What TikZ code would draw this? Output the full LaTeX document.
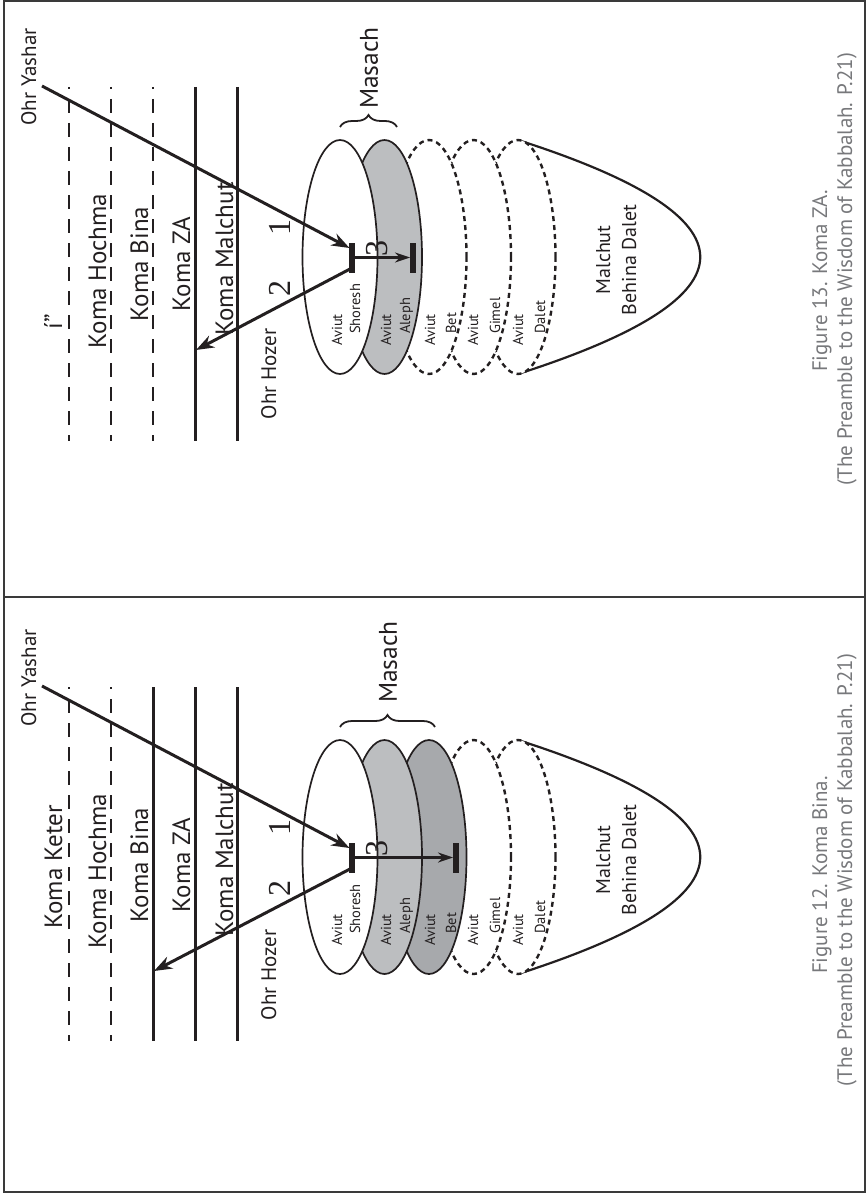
\documentclass[tikz,border=0pt]{standalone}
\usepackage{fontspec}
\setmainfont{PT Sans}
\newfontfamily\digitfont{Liberation Serif}
\usetikzlibrary{arrows.meta,decorations.pathreplacing,shapes.geometric}
\definecolor{ink}{HTML}{231F20}
\definecolor{capgray}{HTML}{77787B}
\definecolor{grayA}{HTML}{BCBEC0}
\definecolor{grayB}{HTML}{A7A9AC}
\definecolor{framegray}{HTML}{3A3A3A}
\tikzset{
  txt/.style={rotate=90, inner sep=0pt, text=ink},
  koma/.style={txt, anchor=base, font=\fontsize{25}{30}\selectfont},
  ohr/.style={txt, anchor=base, font=\fontsize{21}{25}\selectfont},
  lblsmall/.style={txt, anchor=base west, font=\fontsize{14.5}{17}\selectfont},
  digit/.style={txt, anchor=base, font=\digitfont\fontsize{32}{36}\selectfont},
  mlabel/.style={txt, anchor=base, font=\fontsize{20}{24}\selectfont},
  masach/.style={txt, anchor=center, font=\fontsize{25.5}{30}\selectfont},
  capt/.style={rotate=90, inner sep=0pt, anchor=base, text=capgray, font=\fontsize{21}{25}\selectfont},
  solidline/.style={draw=ink, line width=3pt},
  dashline/.style={draw=ink, line width=2pt, dash pattern=on 14pt off 10pt, dash phase=12pt},
  ray/.style={draw=ink, line width=3pt, -{Stealth[length=18pt,width=13pt]}},
  rayb/.style={draw=ink, line width=2.5pt, -{Stealth[length=15pt,width=10pt]}},
  tbar/.style={fill=ink, inner sep=0pt, minimum width=5.5pt, minimum height=30pt},
  disc/.style={ellipse, draw=ink, line width=1.7pt, fill=white, inner sep=0pt, minimum width=75pt, minimum height=234pt},
  ghost/.style={disc, line width=2.4pt, dash pattern=on 5pt off 4pt},
  brc/.style={draw=ink, line width=1.8pt, decorate, decoration={brace, amplitude=12pt}},
  bowl/.style={draw=ink, line width=2.2pt},
}
\begin{document}
\begin{tikzpicture}[x=1pt,y=-1pt]
\useasboundingbox (0,0) rectangle (866,1193);
\draw[framegray, line width=2pt] (4,1.5) rectangle (864.5,1191.5);
\draw[framegray, line width=2pt] (4,597) -- (864.5,597);

% ================= Figure 13 (top panel) =================
\begin{scope}
  % Koma lines
  \draw[dashline] (69,87) -- (69,441);
  \draw[dashline] (111,87) -- (111,441);
  \draw[dashline] (153,87) -- (153,441);
  \draw[solidline] (195,87) -- (195,441);
  \draw[solidline] (237,87) -- (237,441);
  % bowl
  \coordinate (tpa) at (518,140);
  \coordinate (tpb) at (518,374);
  \draw[bowl] (tpa) .. controls (761,218) and (761,296) .. (tpb);
  % discs
  \node[ghost] (t5) at (518,257) {};
  \node[ghost] (t4) at (473.5,257) {};
  \node[ghost] (t3) at (429,257) {};
  \node[disc, fill=grayA] (t2) at (384.5,257) {};
  \node[disc] (t1) at (340,257) {};
  \node[lblsmall] (t1a) at (342,346) {Aviut};
  \node[lblsmall] (t1b) at (360,334) {Shoresh};
  \node[lblsmall] (t2a) at (391,346) {Aviut};
  \node[lblsmall] (t2b) at (410,334) {Aleph};
  \node[lblsmall] (t3a) at (435,346) {Aviut};
  \node[lblsmall] (t3b) at (456,334) {Bet};
  \node[lblsmall] (t4a) at (478,346) {Aviut};
  \node[lblsmall] (t4b) at (500,334) {Gimel};
  \node[lblsmall] (t5a) at (523,346) {Aviut};
  \node[lblsmall] (t5b) at (545,334) {Dalet};
  % labels
  \node[koma] (tk1) at (62,322) {í”};
  \node[koma] (tk2) at (106,271) {Koma Hochma};
  \node[koma] (tk3) at (148,264) {Koma Bina};
  \node[koma] (tk4) at (190,264) {Koma ZA};
  \node[koma] (tk5) at (233,259) {Koma Malchut};
  \node[ohr] (tys-l) at (36,77) {Ohr Yashar};
  \node[ohr] (thz-l) at (276,374) {Ohr Hozer};
  \node[digit] (tn1) at (290,227) {1};
  \node[digit] (tn2) at (290,288) {2};
  \node[digit] (tn3) at (387,248) {3};
  \node[mlabel] (tm1) at (610,260) {Malchut};
  \node[mlabel] (tm2) at (636,260) {Behina Dalet};
  % brace and Masach
  \coordinate (tbr1) at (340,127);
  \coordinate (tbr2) at (397,127);
  \draw[brc] (tbr1) -- (tbr2);
  \node[masach] (tmas) at (369,68) {Masach};
  % rays and bars
  \node[tbar] (tb1) at (352,257.5) {};
  \node[tbar] (tb2) at (413,257.5) {};
  \coordinate (tys) at (42,86);
  \coordinate (thit) at (349.5,248);
  \coordinate (tsrc) at (350,269);
  \coordinate (thz) at (196,350);
  \draw[ray] (tys) -- (thit);
  \draw[ray] (tsrc) -- (thz);
  \draw[rayb] (tb1.center) -- (tb2.west);
  % caption
  \node[capt] (tc1) at (827,281) {Figure 13. Koma ZA.};
  \node[capt] (tc2) at (852,269) {(The Preamble to the Wisdom of Kabbalah. P.21)};
\end{scope}

% ================= Figure 12 (bottom panel) =================
\begin{scope}[yshift=-600pt]
  \draw[dashline] (69,87) -- (69,441);
  \draw[dashline] (111,87) -- (111,441);
  \draw[solidline] (153,87) -- (153,441);
  \draw[solidline] (195,87) -- (195,441);
  \draw[solidline] (237,87) -- (237,441);
  \coordinate (bpa) at (518,140);
  \coordinate (bpb) at (518,374);
  \draw[bowl] (bpa) .. controls (761,218) and (761,296) .. (bpb);
  \node[ghost] (b5) at (518,257) {};
  \node[ghost] (b4) at (473.5,257) {};
  \node[disc, fill=grayB] (b3) at (429,257) {};
  \node[disc, fill=grayA] (b2) at (384.5,257) {};
  \node[disc] (b1) at (340,257) {};
  \node[lblsmall] (b1a) at (342,346) {Aviut};
  \node[lblsmall] (b1b) at (360,334) {Shoresh};
  \node[lblsmall] (b2a) at (391,346) {Aviut};
  \node[lblsmall] (b2b) at (410,334) {Aleph};
  \node[lblsmall] (b3a) at (435,346) {Aviut};
  \node[lblsmall] (b3b) at (456,334) {Bet};
  \node[lblsmall] (b4a) at (478,346) {Aviut};
  \node[lblsmall] (b4b) at (500,334) {Gimel};
  \node[lblsmall] (b5a) at (523,346) {Aviut};
  \node[lblsmall] (b5b) at (545,334) {Dalet};
  \node[koma] (bk1) at (62,267) {Koma Keter};
  \node[koma] (bk2) at (106,271) {Koma Hochma};
  \node[koma] (bk3) at (148,265) {Koma Bina};
  \node[koma] (bk4) at (190,265) {Koma ZA};
  \node[koma] (bk5) at (233,260) {Koma Malchut};
  \node[ohr] (bys-l) at (36,78) {Ohr Yashar};
  \node[ohr] (bhz-l) at (276,375) {Ohr Hozer};
  \node[digit] (bn1) at (290,227) {1};
  \node[digit] (bn2) at (290,288) {2};
  \node[digit] (bn3) at (387,248) {3};
  \node[mlabel] (bm1) at (610,260) {Malchut};
  \node[mlabel] (bm2) at (636,260) {Behina Dalet};
  \coordinate (bbr1) at (340,127);
  \coordinate (bbr2) at (435,127);
  \draw[brc] (bbr1) -- (bbr2);
  \node[masach] (bmas) at (388,62) {Masach};
  \node[tbar] (bb1) at (352,257.5) {};
  \node[tbar] (bb2) at (456,257.5) {};
  \coordinate (bys) at (42,86);
  \coordinate (bhit) at (349.5,248);
  \coordinate (bsrc) at (350,269);
  \coordinate (bhz) at (154,371);
  \draw[ray] (bys) -- (bhit);
  \draw[ray] (bsrc) -- (bhz);
  \draw[rayb] (bb1.center) -- (bb2.west);
  \node[capt] (bc1) at (827,275) {Figure 12. Koma Bina.};
  \node[capt] (bc2) at (852,270) {(The Preamble to the Wisdom of Kabbalah. P.21)};
\end{scope}
\end{tikzpicture}
\end{document}
